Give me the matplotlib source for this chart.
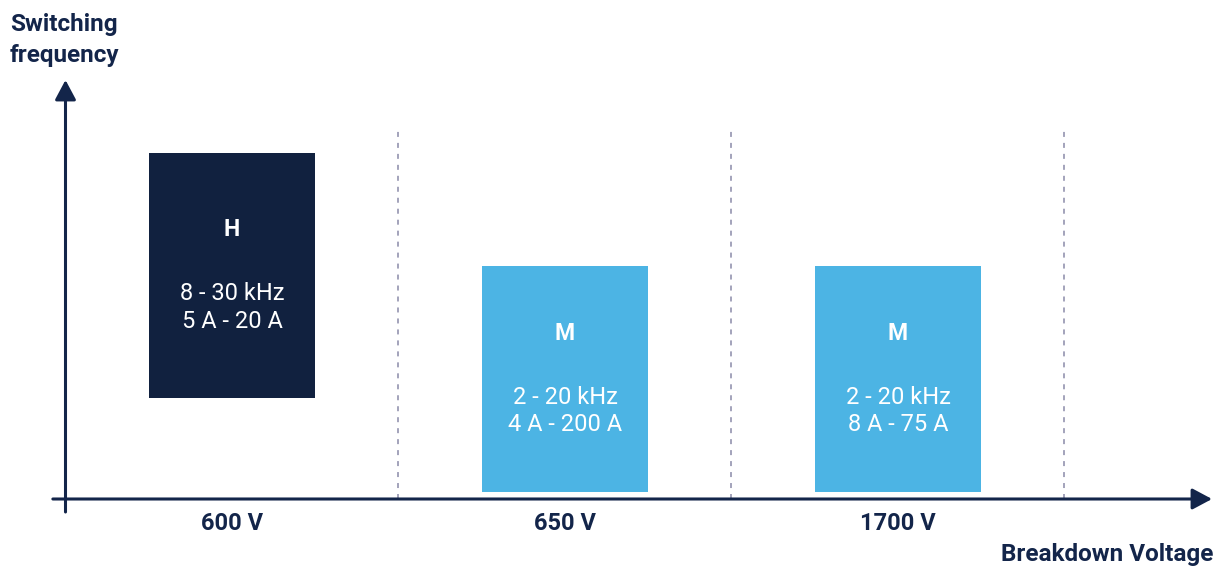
import matplotlib
matplotlib.use("Agg")
import matplotlib.pyplot as plt

# data
categories = ['600 V', '650 V', '1700 V']
classes = ['H', 'M', 'M']
freq_ranges = ['8 - 30 kHz', '2 - 20 kHz', '2 - 20 kHz']
current_ranges = ['5 A - 20 A', '4 A - 200 A', '8 A - 75 A']
box_bottom = [10.1, 0.7, 0.7]
box_top = [34.6, 23.3, 23.3]

navy = '#13254a'
dark_box = '#11213f'
light_box = '#4cb4e4'
box_colors = [dark_box, light_box, light_box]

plt.rcParams['font.family'] = ['Roboto', 'DejaVu Sans']
plt.rcParams['lines.scale_dashes'] = False

fig = plt.figure(figsize=(12.23, 5.68), dpi=100)
ax = fig.add_axes([0, 0, 1, 1])
ax.set_xlim(-0.6967, 2.976)
ax.set_ylim(-6.9, 49.9)
ax.axis('off')

box_w = 0.5
for i, cat in enumerate(categories):
    # box
    ax.bar(i, box_top[i] - box_bottom[i], bottom=box_bottom[i], width=box_w,
           color=box_colors[i], zorder=2)
    mid = (box_top[i] + box_bottom[i]) / 2
    ax.text(i, mid + 4.6, classes[i], color='white', fontsize=16.5,
            fontweight='bold', ha='center', va='center')
    ax.text(i, mid - 3.2, freq_ranges[i] + '\n' + current_ranges[i],
            color='white', fontsize=17, ha='center', va='center',
            linespacing=1.25)
    # dashed separator
    ax.plot([i + 0.5, i + 0.5], [0, 36.9], color='#8a8aa8', lw=1.1,
            dashes=(3.6, 4.3), zorder=1)
    # category label
    ax.text(i, -2.4, cat, color=navy, fontsize=17, fontweight='bold',
            ha='center', va='center')

# axes with arrows
ax.annotate('', xy=(2.943, 0), xytext=(-0.538, 0),
            arrowprops=dict(arrowstyle='-|>,head_length=0.6,head_width=0.32',
                            mutation_scale=20, lw=2.2, color=navy,
                            shrinkA=0, shrinkB=0), zorder=3)
ax.annotate('', xy=(-0.5, 41.9), xytext=(-0.5, -1.3),
            arrowprops=dict(arrowstyle='-|>,head_length=0.6,head_width=0.32',
                            mutation_scale=20, lw=2.2, color=navy,
                            shrinkA=0, shrinkB=0), zorder=3)

ax.text(-0.667, 48.6, 'Switching\nfrequency', color=navy, fontsize=17.5,
        fontweight='bold', ha='left', va='top', linespacing=1.45)
ax.text(2.946, -5.5, 'Breakdown Voltage', color=navy, fontsize=17.5,
        fontweight='bold', ha='right', va='center')

plt.savefig('out.png', dpi=100)
